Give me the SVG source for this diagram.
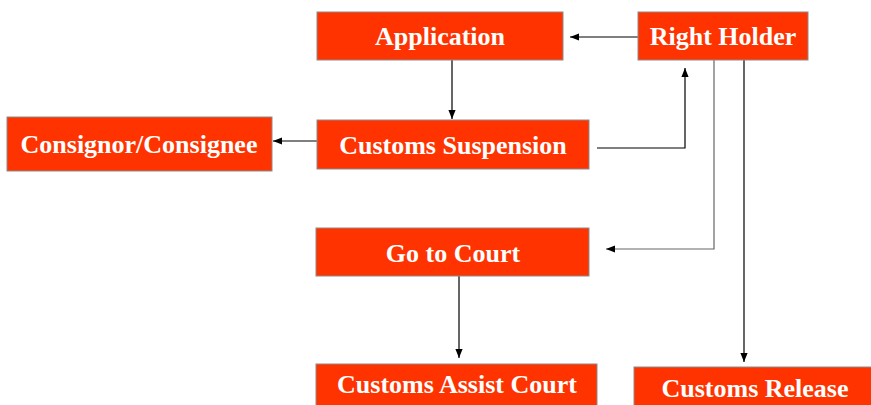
<svg xmlns="http://www.w3.org/2000/svg" width="871" height="405" viewBox="0 0 871 405">
<style>
.box{fill:#FF3300;stroke:#8c8c8c;stroke-width:1}
.lbl{font-family:"Liberation Serif","Times New Roman",serif;font-weight:bold;font-size:26px;fill:#ffffff;text-anchor:middle}
.con{fill:none;stroke:#000;stroke-width:1.2}
.gray{stroke:#666}
</style>
<defs>
<marker id="ah" viewBox="0 0 10 10" refX="10" refY="5" markerWidth="9" markerHeight="9" markerUnits="userSpaceOnUse" orient="auto">
<path d="M0,1 L10,5 L0,9 z" fill="#000"/>
</marker>
</defs>
<rect width="871" height="405" fill="#fff"/>
<g id="connectors">
<path class="con" d="M638,37 H570" marker-end="url(#ah)"/>
<path class="con" d="M452,60 V119" marker-end="url(#ah)"/>
<path class="con" d="M317,141 H273" marker-end="url(#ah)"/>
<path class="con" d="M597,148 H685 V68" marker-end="url(#ah)"/>
<path class="con gray" d="M714,60 V249 H606" marker-end="url(#ah)"/>
<path class="con" d="M744,60 V362" marker-end="url(#ah)"/>
<path class="con" d="M459,276 V358" marker-end="url(#ah)"/>
</g>
<g id="application"><rect class="box" x="317" y="12" width="246" height="48"/><text class="lbl" x="440" y="45">Application</text></g>
<g id="right-holder"><rect class="box" x="638" y="12" width="170" height="48"/><text class="lbl" x="723" y="45">Right Holder</text></g>
<g id="customs-suspension"><rect class="box" x="317" y="120" width="272" height="49"/><text class="lbl" x="453" y="154">Customs Suspension</text></g>
<g id="consignor"><rect class="box" x="7" y="117" width="265" height="54"/><text class="lbl" x="139" y="153">Consignor/Consignee</text></g>
<g id="go-to-court"><rect class="box" x="316" y="228" width="273" height="48"/><text class="lbl" x="453" y="262">Go to Court</text></g>
<g id="customs-assist-court"><rect class="box" x="316" y="364" width="281" height="48"/><text class="lbl" x="457" y="393">Customs Assist Court</text></g>
<g id="customs-release"><rect class="box" x="634" y="367" width="245" height="48"/><text class="lbl" x="755" y="397">Customs Release</text></g>
</svg>
